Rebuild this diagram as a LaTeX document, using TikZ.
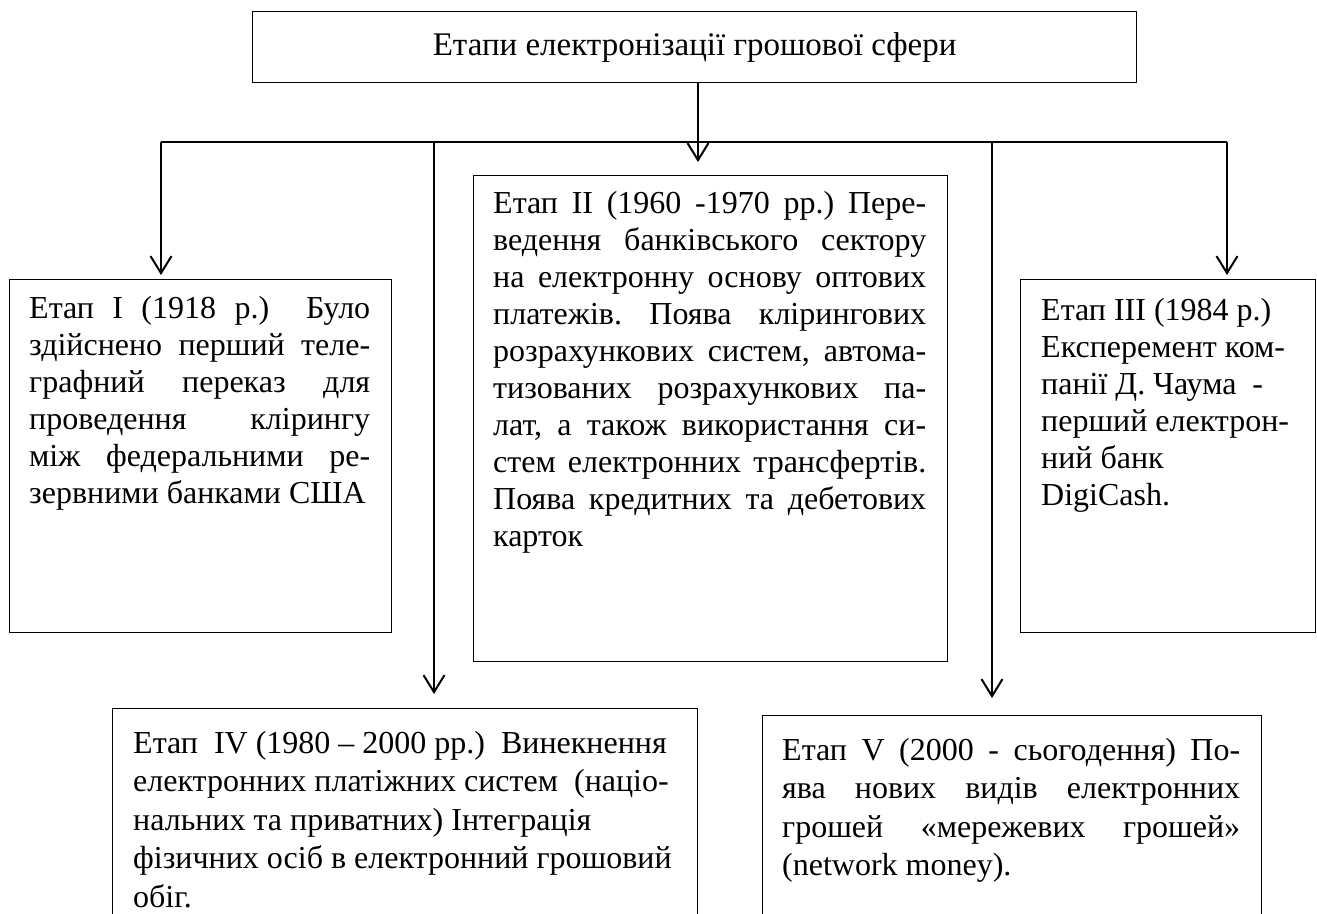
\documentclass[tikz,border=0pt]{standalone}
\usepackage{fontspec}
\setmainfont{Liberation Serif}
\usetikzlibrary{arrows.meta}
\newlength\jw
\newcommand\resetsp{\frenchspacing\spaceskip=0pt\xspaceskip=0pt\relax}
\newcommand\jline[1]{\makebox[\jw][s]{\resetsp #1}}
\begin{document}
\begin{tikzpicture}[x=1pt,y=-1pt,
  box/.style={draw=black, line width=1.3pt, rectangle, inner sep=0pt, anchor=north west},
  txt/.style={inner sep=0pt, anchor=north west, font=\fontsize{32}{37}\selectfont, align=left},
  txtb/.style={txt, font=\fontsize{32}{38.5}\selectfont},
  title/.style={draw=black, line width=1.3pt, rectangle, inner sep=0pt, font=\fontsize{33}{38}\selectfont},
  conn/.style={line width=2pt},
  arr/.style={line width=2pt, -{Straight Barb[length=17pt,width=21pt,line width=2pt]}}]
\fill[white] (0,0) rectangle (1317,913);
\useasboundingbox (0,0) rectangle (1317,913);
\clip (0,0) rectangle (1317,913);

% boxes
\node[title, minimum width=884pt, minimum height=71pt, anchor=north west] (b0) at (252,11) {Етапи електронізації грошової сфери};
\node[box, minimum width=382pt, minimum height=353pt] (b1) at (9,279) {};
\node[box, minimum width=474pt, minimum height=486pt] (b2) at (473,175) {};
\node[box, minimum width=295pt, minimum height=353pt] (b3) at (1020,279) {};
\node[box, minimum width=585pt, minimum height=240pt] (b4) at (112,708) {};
\node[box, minimum width=499pt, minimum height=240pt] (b5) at (762,715) {};

% texts
\node[txt, text width=341pt] (t1) at ([shift={(20,13)}]b1.north west) {\resetsp\setlength\jw{341pt}\strut
\jline{Етап I (1918 р.) \ Було}\\
\jline{здійснено перший теле-}\\
\jline{графний переказ для}\\
\jline{проведення клірингу}\\
\jline{між федеральними ре-}\\
зервними банками США};

\node[txt, text width=433pt] (t2) at ([shift={(20,12)}]b2.north west) {\resetsp\setlength\jw{433pt}\strut
\jline{Етап II (1960 -1970 рр.) Пере-}\\
\jline{ведення банківського сектору}\\
\jline{на електронну основу оптових}\\
\jline{платежів. Поява клірингових}\\
\jline{розрахункових систем, автома-}\\
\jline{тизованих розрахункових па-}\\
\jline{лат, а також використання си-}\\
\jline{стем електронних трансфертів.}\\
\jline{Поява кредитних та дебетових}\\
карток};

\node[txt, text width=272pt] (t3) at ([shift={(21,15)}]b3.north west) {\resetsp\strut
Етап III (1984 р.)\\
Експеремент ком-\\
панії Д. Чаума \ -\\
перший електрон-\\
ний банк\\
DigiCash.};

\node[txtb, text width=560pt] (t4) at ([shift={(21,18)}]b4.north west) {\resetsp\strut
Етап \ IV (1980 – 2000 рр.) \ Винекнення\\
електронних платіжних систем \ (націо-\\
нальних та приватних) Інтеграція\\
фізичних осіб в електронний грошовий\\
обіг.};

\node[txtb, text width=458pt] (t5) at ([shift={(20,18)}]b5.north west) {\resetsp\setlength\jw{458pt}\strut
\jline{Етап V (2000 - сьогодення) По-}\\
\jline{ява нових видів електронних}\\
\jline{грошей «мережевих грошей»}\\
(network money).};

% junctions
\coordinate (j0) at (698,142);
\coordinate (j1) at (161,142);
\coordinate (j2) at (434,142);
\coordinate (j3) at (992,142);
\coordinate (j4) at (1227,142);

% connectors
\draw[conn] (j1) -- (j4);
\draw[arr, shorten >=13pt] (b0.south -| j0) -- (b2.north -| j0);
\draw[arr, shorten >=4pt] (j1) -- (b1.north -| j1);
\draw[arr, shorten >=4pt] (j4) -- (b3.north -| j4);
\draw[arr, shorten >=14pt] (j2) -- (b4.north -| j2);
\draw[arr, shorten >=17pt] (j3) -- (b5.north -| j3);
\end{tikzpicture}
\end{document}
